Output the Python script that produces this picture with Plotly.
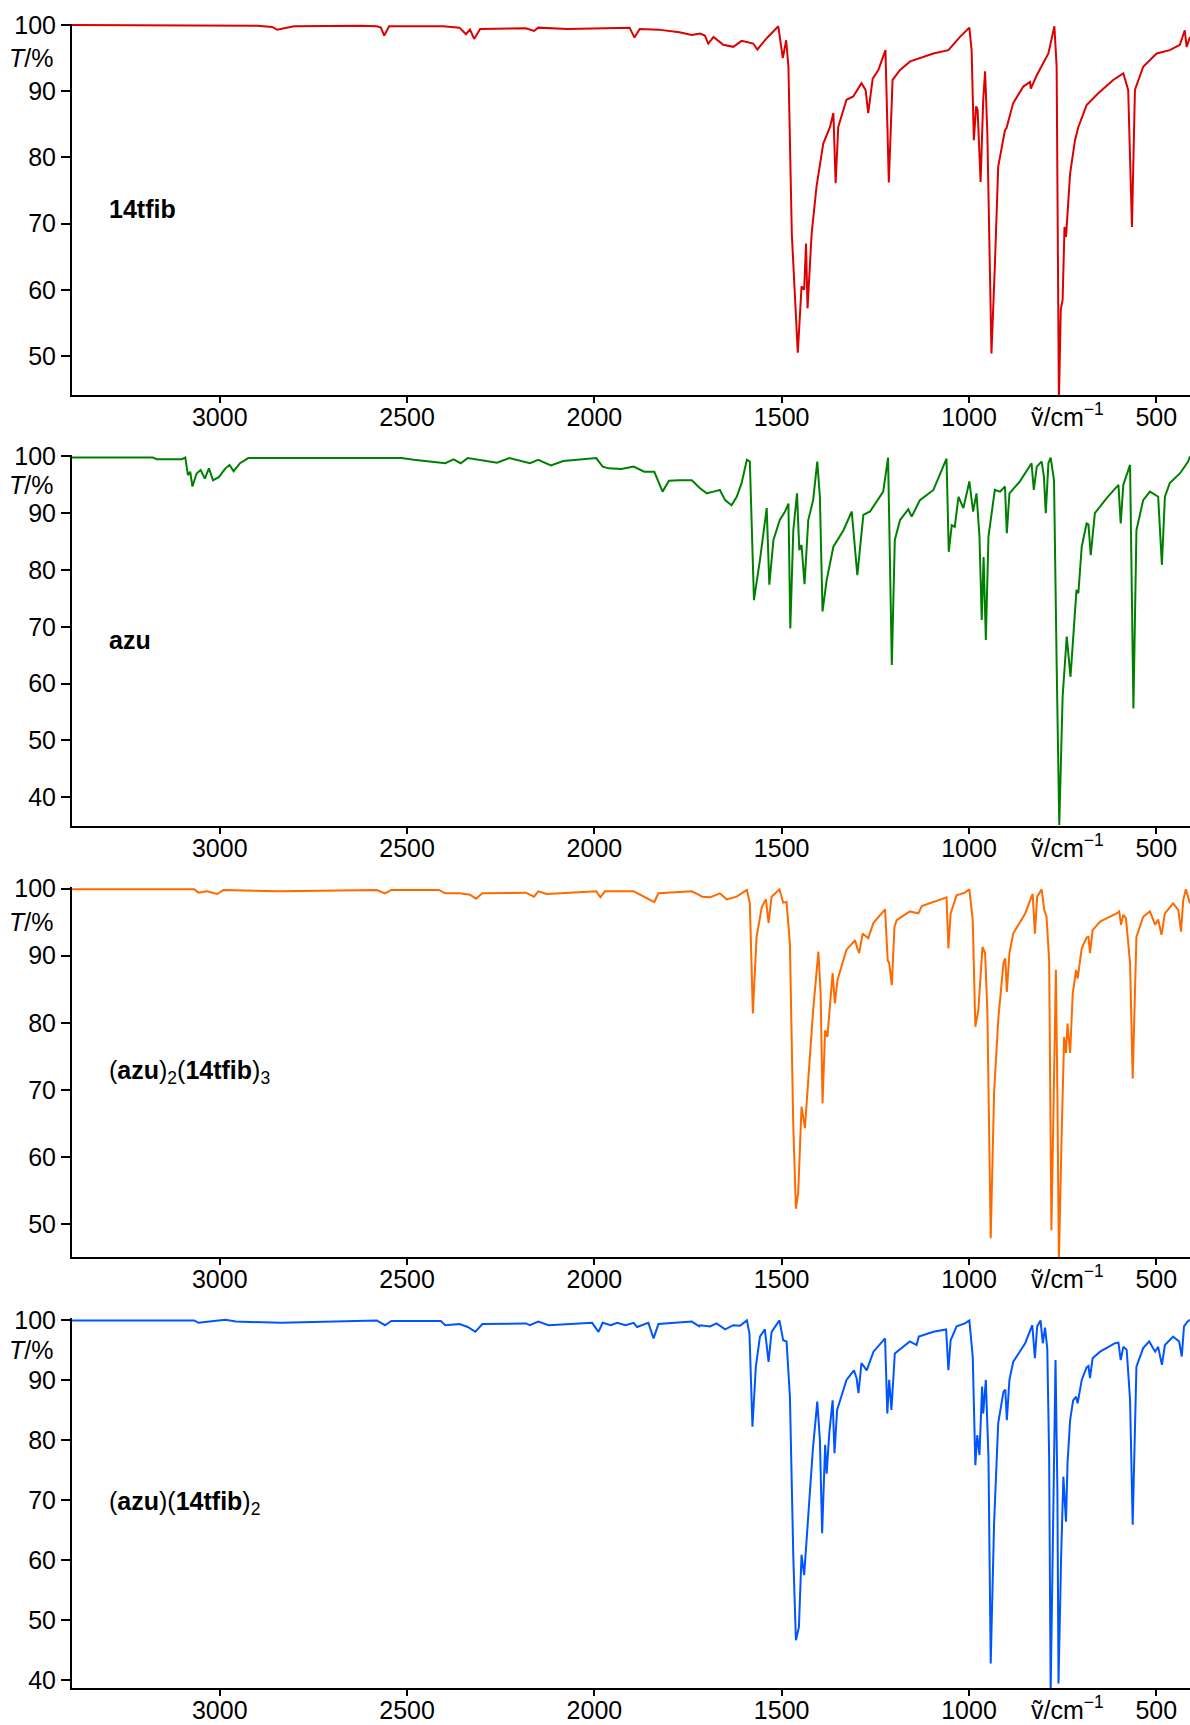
import plotly.graph_objects as go

# ---------------- data (wavenumber / cm-1, transmittance / %) ----------------
wn_14tfib = [3400, 3300, 3200, 3100, 3000, 2900, 2860, 2847, 2802, 2700, 2625, 2581, 2570, 2561, 2548,
             2404, 2360, 2343, 2332, 2321, 2305, 2183, 2161, 2150, 2072, 1906, 1893, 1879, 1829, 1773,
             1740, 1718, 1705, 1696, 1682, 1656, 1629, 1607, 1576, 1565, 1540, 1509, 1497, 1488, 1482,
             1473, 1457, 1447, 1440, 1435, 1431, 1420, 1407, 1389, 1371, 1362, 1356, 1349, 1327, 1309,
             1287, 1276, 1269, 1257, 1242, 1223, 1214, 1204, 1184, 1157, 1095, 1055, 1024, 999, 993,
             987, 981, 977, 969, 962, 957, 951, 940, 931, 922, 904, 900, 882, 855, 837,
             835, 819, 788, 772, 766, 760, 755, 750, 745, 741, 730, 717, 708, 686, 655,
             615, 588, 575, 565, 557, 535, 499, 464, 437, 424, 419, 410]
t_14tfib = [100, 100, 99.9, 100, 99.9, 99.9, 99.7, 99.3, 99.8, 99.9, 99.9, 99.8, 99.6, 98.4, 99.8,
            99.8, 99.6, 98.6, 99.3, 97.9, 99.4, 99.5, 99.1, 99.6, 99.4, 99.6, 98.1, 99.4, 99.3, 98.9,
            98.5, 98.7, 98.4, 97.2, 98.2, 97.0, 96.7, 97.6, 97.2, 96.3, 98.0, 99.8, 95.0, 97.7, 93.7,
            68.5, 50.5, 60.5, 60.0, 67.0, 57.2, 68.5, 75.6, 82.1, 84.6, 86.7, 76.1, 84.6, 88.7, 89.2,
            91.2, 90.2, 86.7, 91.9, 93.2, 96.2, 76.2, 91.7, 93.2, 94.5, 95.7, 96.2, 98.2, 99.6, 96.2,
            82.6, 87.7, 87.2, 76.3, 88.7, 93.0, 83.6, 50.4, 63.5, 78.6, 84.1, 84.4, 88.2, 90.7, 91.4,
            90.4, 92.4, 95.7, 99.8, 93.7, 43.0, 57.0, 58.5, 69.5, 68.0, 77.6, 82.6, 84.6, 87.9, 89.7,
            91.7, 92.7, 90.2, 69.5, 90.2, 93.7, 95.7, 96.2, 97.0, 99.2, 96.7, 98.2]

wn_azu = [3400, 3179, 3168, 3101, 3092, 3085, 3079, 3073, 3062, 3051, 3040, 3029, 3018, 3002, 2985,
          2974, 2963, 2946, 2924, 2736, 2515, 2482, 2398, 2376, 2357, 2338, 2260, 2227, 2172, 2150,
          2116, 2083, 1995, 1978, 1962, 1928, 1895, 1867, 1840, 1818, 1801, 1773, 1740, 1718, 1700,
          1682, 1665, 1651, 1634, 1620, 1607, 1593, 1585, 1574, 1558, 1540, 1533, 1522, 1505, 1491,
          1482, 1477, 1469, 1459, 1453, 1447, 1439, 1429, 1416, 1405, 1398, 1391, 1380, 1362, 1335,
          1313, 1307, 1298, 1282, 1264, 1229, 1216, 1206, 1198, 1184, 1162, 1153, 1131, 1095, 1060,
          1054, 1046, 1038, 1028, 1015, 999, 989, 980, 972, 966, 961, 955, 948, 931, 917,
          904, 899, 892, 864, 833, 827, 819, 806, 800, 795, 788, 782, 773, 766, 759,
          750, 739, 729, 717, 713, 708, 699, 686, 681, 675, 664, 633, 606, 601, 595,
          588, 570, 561, 553, 535, 517, 495, 485, 477, 464, 437, 415, 410]
t_azu = [99.8, 99.8, 99.5, 99.5, 99.8, 96.7, 97.3, 94.7, 97.0, 97.6, 96.1, 97.9, 95.8, 96.4, 97.9,
         98.5, 97.4, 98.8, 99.7, 99.7, 99.7, 99.4, 98.8, 99.5, 98.8, 99.7, 98.9, 99.7, 98.8, 99.4,
         98.4, 99.2, 99.7, 98.2, 97.9, 97.8, 98.2, 97.3, 97.3, 93.8, 95.7, 95.8, 95.8, 94.4, 93.5,
         93.8, 94.1, 92.3, 91.4, 92.9, 95.3, 99.4, 99.1, 74.7, 81.8, 90.9, 77.4, 85.3, 88.8, 90.3,
         91.7, 69.7, 87.0, 93.5, 83.5, 84.4, 77.5, 88.8, 92.3, 99.1, 92.9, 72.7, 78.2, 84.1, 87.0,
         90.3, 85.9, 79.1, 89.7, 90.3, 93.8, 99.8, 63.3, 85.3, 88.8, 90.7, 89.4, 92.3, 94.1, 99.6,
         83.2, 87.9, 87.6, 92.9, 90.9, 95.6, 90.3, 93.5, 85.9, 71.2, 82.3, 67.7, 85.9, 94.1, 93.8,
         94.7, 86.5, 93.5, 95.6, 98.8, 94.1, 98.2, 99.1, 96.5, 90.0, 98.8, 99.8, 95.8, 63.6, 35.1,
         57.7, 68.3, 61.2, 71.8, 76.5, 75.9, 84.1, 88.2, 88.0, 82.6, 90.0, 92.6, 94.7, 95.0, 88.2,
         95.0, 98.5, 55.6, 87.0, 92.3, 93.8, 92.9, 80.9, 92.9, 95.3, 97.0, 99.1, 100]

wn_23 = [3400, 3068, 3057, 3035, 3007, 2990, 2847, 2836, 2581, 2559, 2542, 2415, 2398, 2360, 2332,
         2316, 2299, 2183, 2161, 2150, 2127, 1995, 1984, 1972, 1895, 1840, 1829, 1740, 1718, 1713,
         1691, 1665, 1647, 1620, 1593, 1585, 1577, 1567, 1553, 1542, 1535, 1527, 1506, 1496, 1487,
         1478, 1469, 1462, 1456, 1447, 1438, 1432, 1416, 1402, 1396, 1391, 1384, 1378, 1364, 1358,
         1351, 1327, 1304, 1298, 1293, 1284, 1269, 1255, 1224, 1217, 1213, 1206, 1199, 1193, 1158,
         1135, 1126, 1060, 1055, 1049, 1033, 1011, 999, 990, 983, 975, 964, 957, 951, 942,
         933, 922, 908, 903, 899, 892, 882, 850, 830, 824, 818, 806, 799, 793, 786,
         780, 773, 768, 764, 760, 753, 746, 741, 737, 730, 723, 714, 710, 699, 686,
         681, 677, 670, 650, 606, 599, 594, 588, 581, 570, 563, 553, 535, 517, 503,
         495, 486, 477, 455, 441, 434, 428, 421, 410]
t_23 = [99.9, 99.9, 99.4, 99.6, 99.2, 99.8, 99.6, 99.6, 99.8, 99.3, 99.8, 99.8, 99.3, 99.3, 99.1,
        98.5, 99.3, 99.4, 98.8, 99.6, 99.2, 99.6, 98.7, 99.6, 99.6, 98.0, 99.3, 99.6, 99.0, 98.8,
        98.7, 99.3, 98.4, 98.8, 99.8, 97.8, 81.4, 92.8, 97.3, 98.4, 94.9, 98.8, 99.9, 97.9, 98.0,
        91.8, 64.5, 52.3, 54.6, 67.5, 64.3, 69.5, 81.9, 90.6, 84.4, 68.0, 78.9, 77.9, 87.4, 82.9,
        86.4, 90.9, 92.3, 91.1, 90.4, 93.3, 92.6, 94.9, 96.9, 89.3, 88.9, 85.6, 94.3, 95.3, 96.6,
        96.3, 97.4, 98.7, 91.1, 96.3, 99.0, 99.4, 99.9, 95.3, 79.4, 81.9, 91.3, 90.4, 81.9, 47.9,
        69.5, 80.4, 88.9, 89.6, 84.6, 90.4, 93.3, 96.3, 99.2, 93.3, 98.8, 99.9, 96.8, 95.8, 89.3,
        49.1, 70.5, 87.9, 69.5, 44.5, 62.5, 77.9, 75.5, 79.9, 75.5, 84.4, 87.9, 86.6, 91.1, 92.7,
        92.8, 90.4, 93.8, 95.1, 96.3, 96.6, 94.6, 96.1, 95.6, 88.9, 71.7, 92.8, 95.8, 96.6, 94.6,
        95.4, 93.1, 96.3, 97.8, 96.8, 93.6, 98.3, 99.9, 97.8]

wn_12 = [3400, 3068, 3057, 3024, 2985, 2957, 2836, 2581, 2559, 2542, 2410, 2398, 2360, 2338, 2318,
         2299, 2183, 2172, 2150, 2122, 2006, 1989, 1978, 1956, 1939, 1917, 1895, 1886, 1856, 1842,
         1829, 1740, 1720, 1718, 1691, 1674, 1651, 1629, 1611, 1593, 1586, 1578, 1569, 1558, 1545,
         1535, 1527, 1506, 1496, 1487, 1478, 1469, 1462, 1454, 1447, 1440, 1433, 1417, 1405, 1398,
         1392, 1384, 1380, 1373, 1364, 1359, 1352, 1327, 1307, 1300, 1295, 1287, 1273, 1255, 1224,
         1218, 1213, 1207, 1198, 1184, 1158, 1140, 1134, 1095, 1061, 1055, 1049, 1033, 1011, 999,
         990, 983, 978, 972, 965, 962, 955, 948, 942, 933, 922, 908, 903, 899, 892,
         882, 850, 831, 824, 818, 809, 803, 797, 791, 786, 782, 775, 769, 764, 761,
         754, 748, 744, 741, 737, 730, 722, 714, 710, 699, 686, 681, 677, 670, 650,
         610, 601, 595, 588, 579, 570, 563, 553, 535, 519, 503, 495, 485, 477, 455,
         439, 432, 426, 417, 410]
t_12 = [99.9, 99.9, 99.5, 99.7, 100, 99.7, 99.5, 99.9, 99.1, 99.8, 99.8, 99.1, 99.3, 98.8, 98.0,
        99.3, 99.4, 99.1, 99.7, 99.1, 99.5, 98.0, 99.5, 99.1, 99.5, 99.1, 99.5, 98.8, 99.5, 96.9,
        99.3, 99.7, 98.9, 99.1, 98.9, 99.4, 98.4, 99.1, 99.0, 99.9, 97.7, 82.2, 92.2, 97.2, 98.4,
        93.0, 98.0, 99.9, 96.6, 96.4, 87.2, 60.6, 46.7, 48.9, 60.9, 57.5, 63.9, 78.3, 86.4, 80.0,
        64.5, 79.2, 74.4, 81.1, 86.6, 77.8, 85.0, 90.0, 91.6, 90.3, 87.8, 92.8, 91.6, 94.7, 96.9,
        84.4, 90.0, 85.0, 94.4, 95.1, 96.4, 95.8, 97.2, 98.0, 98.4, 91.6, 96.6, 98.9, 99.4, 99.9,
        93.9, 75.8, 80.8, 77.5, 88.9, 84.4, 90.0, 77.2, 42.8, 66.1, 82.8, 88.0, 88.4, 83.3, 90.0,
        93.0, 96.1, 99.1, 93.6, 98.9, 99.9, 96.1, 98.7, 95.2, 77.2, 38.0, 66.1, 93.3, 71.7, 39.5,
        60.6, 73.9, 69.5, 66.4, 76.1, 83.3, 86.6, 87.2, 86.1, 90.0, 92.1, 92.3, 90.3, 93.6, 94.7,
        96.1, 96.2, 93.3, 95.5, 95.0, 86.7, 65.9, 92.2, 95.3, 96.4, 94.7, 95.5, 92.5, 95.8, 97.2,
        96.4, 93.9, 98.9, 99.7, 100]

x_ticks = [3000, 2500, 2000, 1500, 1000, 500]
sample_labels = ["<b>14tfib</b>", "<b>azu</b>",
                 "(<b>azu</b>)<sub>2</sub>(<b>14tfib</b>)<sub>3</sub>",
                 "(<b>azu</b>)(<b>14tfib</b>)<sub>2</sub>"]

# ---------------- styling / layout ----------------
FONT = "Arial, Liberation Sans, Helvetica, sans-serif"
colors = ["#dd0000", "#008000", "#ff6a00", "#0055ff"]
series = [(wn_14tfib, t_14tfib), (wn_azu, t_azu), (wn_23, t_23), (wn_12, t_12)]

W, H = 1190, 1725
L, R, T, B = 72, 0, 24, 37
plot_h = H - T - B
# panel top/bottom in figure pixels
panels_px = [(24, 395), (455, 826), (887, 1257), (1318, 1688)]
y_domains = [[max(0.0, (H - B - b) / plot_h), min(1.0, (H - B - t) / plot_h)] for t, b in panels_px]
y_ranges = [[44.11, 100.15], [34.93, 100.25], [45.10, 100.24], [38.74, 100.30]]
x_range = [3394.5, 3394.5 - (W - L) * 2.6695]

fig = go.Figure()
for i, ((xs, ys), col) in enumerate(zip(series, colors)):
    sfx = "" if i == 0 else str(i + 1)
    fig.add_trace(go.Scatter(x=xs, y=ys, mode="lines",
                             line=dict(color=col, width=2),
                             xaxis="x" + sfx, yaxis="y" + sfx,
                             showlegend=False, hoverinfo="skip"))

layout = dict(
    width=W, height=H,
    margin=dict(l=L, r=R, t=T, b=B, autoexpand=False),
    paper_bgcolor="white", plot_bgcolor="white",
    font=dict(family=FONT, size=25, color="black"),
    showlegend=False,
)
annotations = []
for i in range(4):
    sfx = "" if i == 0 else str(i + 1)
    layout["xaxis" + sfx] = dict(
        domain=[0, 1], anchor="y" + sfx, range=x_range,
        showline=True, linecolor="black", linewidth=2,
        ticks="outside", ticklen=6, tickwidth=2, tickcolor="black",
        ticklabelstandoff=-7,
        tickvals=x_ticks, tickfont=dict(size=25, family=FONT),
        showgrid=False, zeroline=False)
    layout["yaxis" + sfx] = dict(
        domain=y_domains[i], anchor="x" + sfx, range=y_ranges[i],
        showline=True, linecolor="black", linewidth=2,
        ticks="outside", ticklen=9, tickwidth=2, tickcolor="black",
        dtick=10, tick0=0, tickfont=dict(size=25, family=FONT),
        showgrid=False, zeroline=False)
    # T/% axis label
    annotations.append(dict(text="<i>T</i>/%", xref="paper", x=(55 - L) / (W - L), xanchor="right",
                            yref="y" + sfx, y=95, yanchor="middle", showarrow=False,
                            font=dict(size=25, family=FONT)))
    # wavenumber axis label
    annotations.append(dict(text="ṽ/cm<sup>−1</sup>", xref="x" + sfx, x=738, xanchor="center",
                            yref="y" + sfx + " domain", y=0, yanchor="top", yshift=-2,
                            showarrow=False, font=dict(size=25, family=FONT)))
    # sample label
    annotations.append(dict(text=sample_labels[i], xref="x" + sfx + " domain", x=0.0315,
                            xanchor="left", yref="y" + sfx + " domain", y=0.501,
                            yanchor="middle", showarrow=False,
                            font=dict(size=25, family=FONT)))
layout["annotations"] = annotations
fig.update_layout(**layout)

fig.write_html("out.html",
               config={"displayModeBar": False},
               post_script="document.body.style.margin='0';document.body.style.overflow='hidden';")
